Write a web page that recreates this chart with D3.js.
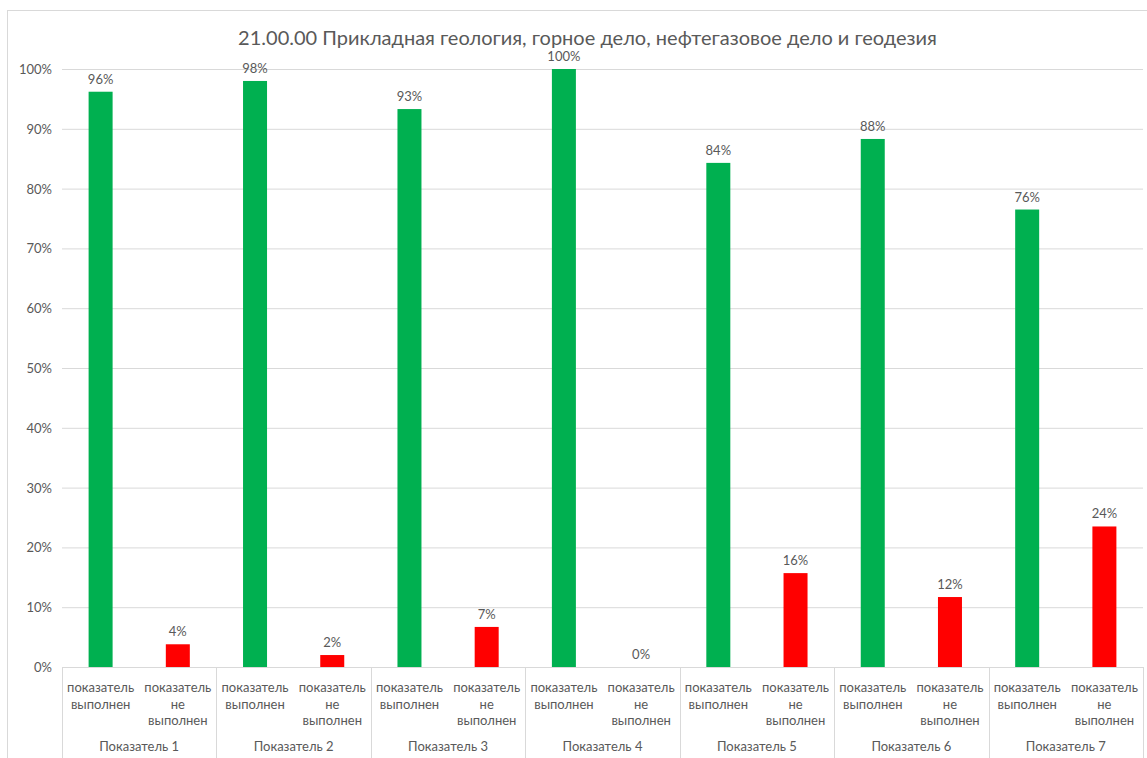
<!DOCTYPE html>
<html><head><meta charset="utf-8">
<script src="https://cdn.jsdelivr.net/npm/d3@7"></script>
<style>body{margin:0;background:#fff;} text{font-family:Lato,"Open Sans",sans-serif;}</style>
</head><body>
<svg id="c" width="1147" height="758"></svg>
<script>
const title = "21.00.00 Прикладная геология, горное дело, нефтегазовое дело и геодезия";
const groups = ["Показатель 1","Показатель 2","Показатель 3","Показатель 4","Показатель 5","Показатель 6","Показатель 7"];
const subcats = ["показатель выполнен","показатель не выполнен"];
const doneValues = [96.2, 98.0, 93.3, 100, 84.3, 88.3, 76.5];
const notDoneValues = [3.8, 2.0, 6.7, 0, 15.7, 11.7, 23.5];
const doneLabels = ["96%","98%","93%","100%","84%","88%","76%"];
const notDoneLabels = ["4%","2%","7%","0%","16%","12%","24%"];
const yTicks = [0,10,20,30,40,50,60,70,80,90,100];
const colors = ["#00b050","#ff0000"];

const svg = d3.select("#c");
const L = 62, R = 1143, T = 69, B = 667;
const grey = "#595959", grid = "#d9d9d9";

svg.append("rect").attr("x",7.5).attr("y",10.5).attr("width",1150).attr("height",760)
  .attr("fill","none").attr("stroke",grid);

const y = d3.scaleLinear().domain([0,100]).range([B,T]);
const x0 = d3.scaleBand().domain(groups).range([L,R]).padding(0);
const x1 = d3.scaleBand().domain(subcats).range([0,x0.bandwidth()]).padding(0);

svg.append("text").attr("x",(L+R)/2-15).attr("y",45).attr("text-anchor","middle")
  .attr("font-size",20).attr("fill",grey).text(title);

// gridlines
const ya = d3.axisLeft(y).tickValues(yTicks).tickSize(-(R-L)).tickFormat(d=>d+"%");
const yg = svg.append("g").attr("transform",`translate(${L},0)`).call(ya);
yg.select(".domain").remove();
yg.selectAll(".tick line").attr("stroke",grid);
yg.selectAll(".tick text").attr("fill",grey).attr("font-size",13).attr("x",-10).attr("dy","0.35em");

// bars
const rows = groups.map((g,i)=>({g, vals:[
  {s:subcats[0], v:doneValues[i], lab:doneLabels[i], c:colors[0]},
  {s:subcats[1], v:notDoneValues[i], lab:notDoneLabels[i], c:colors[1]}]}));
const bw = 24;
const gg = svg.selectAll("g.grp").data(rows).enter().append("g").attr("class","grp")
  .attr("transform",d=>`translate(${x0(d.g)},0)`);
gg.selectAll("rect").data(d=>d.vals).enter().append("rect")
  .attr("x",d=>x1(d.s)+x1.bandwidth()/2-bw/2).attr("width",bw)
  .attr("y",d=>y(d.v)).attr("height",d=>B-y(d.v)).attr("fill",d=>d.c);
gg.selectAll("text.lab").data(d=>d.vals).enter().append("text").attr("class","lab")
  .attr("x",d=>x1(d.s)+x1.bandwidth()/2).attr("y",d=>y(d.v)-8)
  .attr("text-anchor","middle").attr("font-size",13).attr("fill",grey).text(d=>d.lab);

// axis line
svg.append("line").attr("x1",L).attr("x2",R).attr("y1",B+0.5).attr("y2",B+0.5).attr("stroke",grid);
// dividers
const divs = groups.map(g=>x0(g)).concat([R]);
svg.selectAll("line.div").data(divs).enter().append("line").attr("class","div")
  .attr("x1",d=>Math.round(d)+0.5).attr("x2",d=>Math.round(d)+0.5).attr("y1",B).attr("y2",758).attr("stroke",grid);

// sub labels
groups.forEach(g=>{
  subcats.forEach((s,j)=>{
    const cx = x0(g)+x1(s)+x1.bandwidth()/2;
    const lines = j===0 ? ["показатель","выполнен"] : ["показатель","не","выполнен"];
    lines.forEach((ln,k)=>{
      svg.append("text").attr("x",cx).attr("y",692+k*16.5).attr("text-anchor","middle")
        .attr("font-size",13).attr("fill",grey).text(ln);
    });
  });
  svg.append("text").attr("x",x0(g)+x0.bandwidth()/2).attr("y",751).attr("text-anchor","middle")
    .attr("font-size",13).attr("fill",grey).text(g);
});
</script>
</body></html>
